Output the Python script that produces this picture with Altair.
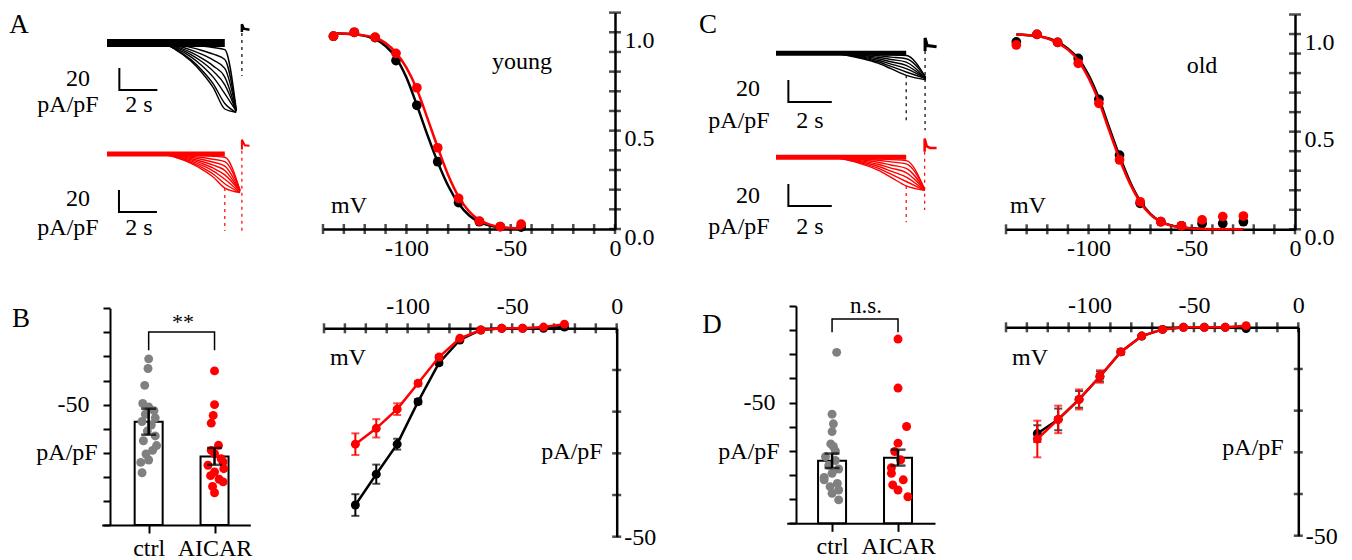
import altair as alt
import pandas as pd

FONT = "Liberation Serif"
W, H = 1352, 560
BLACK, RED, GRAY = "#000000", "#ff0000", "#808080"
NEG_EXPR = "datum.value == 0 ? '0' : '-' + abs(datum.value)"

# ---------------- A / C : normalized activation curves ----------------
ACT_V_YOUNG = [-135, -125, -115, -105, -95, -85, -75, -65, -55, -45]
YOUNG_CTRL = [0.98, 1.00, 0.973, 0.856, 0.629, 0.342, 0.134, 0.037, 0.012, 0.010]
YOUNG_AICAR = [0.98, 1.00, 0.975, 0.893, 0.718, 0.413, 0.156, 0.040, 0.012, 0.025]
FIT_V_YOUNG = [-135, -125, -115, -110, -105, -100, -95, -90, -85, -80, -75, -70, -65, -60, -55, -50, -45]
FIT_YOUNG_CTRL = [0.995, 0.99, 0.965, 0.93, 0.87, 0.77, 0.63, 0.48, 0.34, 0.22, 0.13, 0.07, 0.035, 0.017, 0.008, 0.004, 0.002]
FIT_YOUNG_AICAR = [0.995, 0.99, 0.972, 0.945, 0.895, 0.82, 0.71, 0.565, 0.415, 0.275, 0.165, 0.09, 0.045, 0.022, 0.010, 0.005, 0.003]

ACT_V_OLD = [-135, -125, -115, -105, -95, -85, -75, -65, -55, -45, -35, -25]
OLD_CTRL = [0.96, 0.998, 0.957, 0.875, 0.666, 0.38, 0.133, 0.039, 0.018, 0.03, 0.03, 0.039]
OLD_AICAR = [0.944, 0.998, 0.957, 0.85, 0.645, 0.355, 0.141, 0.039, 0.018, 0.048, 0.065, 0.068]
FIT_V_OLD = [-135, -125, -115, -110, -105, -100, -95, -90, -85, -80, -75, -70, -65, -60, -55, -50, -45, -35, -25]
FIT_OLD_CTRL = [0.998, 0.99, 0.96, 0.925, 0.875, 0.79, 0.67, 0.52, 0.375, 0.245, 0.145, 0.078, 0.04, 0.02, 0.01, 0.005, 0.002, 0.0, 0.0]
FIT_OLD_AICAR = [0.998, 0.99, 0.955, 0.92, 0.865, 0.775, 0.655, 0.505, 0.36, 0.235, 0.14, 0.075, 0.038, 0.019, 0.009, 0.004, 0.002, 0.0, 0.0]

# ---------------- B / D : I-V relations (pA/pF) ----------------
IV_V = [-125, -115, -105, -95, -85, -75, -65, -55, -45, -35, -25]
B_CTRL = [-42.4, -35.0, -27.8, -17.6, -8.3, -2.8, -0.4, 0.0, 0.0, 0.0, 0.3]
B_CTRL_SEM = [2.6, 2.3, 1.3, 0.6, 0.5, 0.3, 0.2, 0.1, 0.1, 0.1, 0.1]
B_AICAR = [-27.8, -24.0, -19.4, -13.2, -6.9, -2.4, -0.4, 0.0, 0.0, 0.3, 1.0]
B_AICAR_SEM = [2.6, 2.2, 1.4, 0.6, 0.5, 0.3, 0.2, 0.1, 0.1, 0.1, 0.1]
D_CTRL = [-25.5, -22.1, -17.3, -11.8, -5.9, -2.1, -0.5, 0.0, 0.0, 0.0, -0.3]
D_CTRL_SEM = [2.0, 2.6, 2.0, 1.2, 0.6, 0.3, 0.2, 0.1, 0.1, 0.1, 0.1]
D_AICAR = [-26.8, -22.1, -17.3, -11.8, -5.9, -2.1, -0.5, 0.0, 0.0, 0.0, 0.4]
D_AICAR_SEM = [4.4, 3.3, 2.4, 1.5, 0.6, 0.3, 0.2, 0.1, 0.1, 0.1, 0.1]

# ---------------- B / D : bar summaries at -125 mV ----------------
GROUPS = ["ctrl", "AICAR"]
B_MEAN = [-42.9, -28.5]
B_SEM = [5.4, 3.5]
D_MEAN = [-25.9, -27.2]
D_SEM = [3.0, 3.3]
B_CTRL_PTS = [-69.0, -65.0, -58.0, -50.5, -49.0, -47.5, -46.0, -44.5, -43.0, -41.5, -39.0, -37.0, -35.0, -33.0, -31.0, -29.5, -27.0, -26.0, -21.7]
B_CTRL_JIT = [0.0, -0.01, -0.06, -0.09, 0.0, 0.08, -0.05, 0.1, -0.1, 0.04, -0.02, 0.1, -0.08, 0.12, 0.06, -0.04, 0.0, -0.12, -0.1]
B_AICAR_PTS = [-64.0, -50.0, -45.5, -42.3, -33.1, -31.0, -29.6, -27.5, -26.2, -24.8, -23.4, -22.0, -20.5, -19.0, -17.9, -16.0, -13.4]
B_AICAR_JIT = [0.0, 0.0, -0.02, -0.05, 0.06, -0.05, 0.0, 0.1, 0.13, -0.1, 0.14, 0.0, -0.06, 0.07, 0.13, -0.03, 0.0]
D_CTRL_PTS = [-70.8, -45.2, -41.2, -38.0, -32.9, -31.8, -30.0, -27.6, -26.0, -24.0, -22.5, -20.7, -19.0, -18.0, -16.5, -15.2, -13.8, -12.4, -9.7]
D_CTRL_JIT = [0.07, 0.0, 0.02, 0.0, -0.02, 0.02, 0.05, -0.1, 0.05, -0.05, 0.1, 0.0, -0.12, -0.12, 0.08, -0.03, 0.1, 0.0, 0.1]
D_AICAR_PTS = [-76.3, -56.0, -40.1, -33.2, -29.7, -26.3, -23.0, -20.7, -18.0, -15.9, -13.8, -11.0]
D_AICAR_JIT = [0.0, 0.0, 0.13, 0.0, -0.05, 0.04, -0.1, -0.1, 0.08, -0.08, 0.0, 0.15]

# ---------------- A / C : current traces (s, pA/pF) ----------------
A_T_BLACK = [0, 2.8, 3.6, 4.4, 5.0, 5.6, 6.2, 6.8]
A_SWEEPS_BLACK = [
    [0, 0, -0.6, -1.6, -2.7, -4.1, -6, -60],
    [0, 0, -1.5, -4.0, -6.8, -10.2, -15, -61],
    [0, 0, -2.3, -6.2, -10.4, -15.6, -23, -61],
    [0, 0, -3.1, -8.4, -14.0, -21.0, -31, -62],
    [0, 0, -3.8, -10.3, -17.1, -25.8, -38, -62],
    [0, 0, -4.6, -12.4, -20.7, -31.3, -46, -62],
    [0, 0, -5.5, -14.9, -24.8, -37.4, -55, -63],
    [0, 0, -6.0, -16.2, -27.0, -40.8, -60, -63],
]
A_T_RED = [0, 2.8, 3.6, 4.4, 5.0, 5.6, 6.2, 7.0]
A_SWEEPS_RED = [
    [0, 0, -0.3, -0.8, -1.4, -2.0, -3, -33],
    [0, 0, -0.7, -1.9, -3.2, -4.8, -7, -33],
    [0, 0, -1.1, -3.0, -5.0, -7.5, -11, -34],
    [0, 0, -1.5, -4.1, -6.8, -10.2, -15, -34],
    [0, 0, -1.9, -5.1, -8.6, -12.9, -19, -34],
    [0, 0, -2.3, -6.2, -10.4, -15.6, -23, -35],
    [0, 0, -2.7, -7.3, -12.2, -18.4, -27, -35],
    [0, 0, -3.1, -8.4, -14.0, -21.1, -31, -35],
]
C_T_BLACK = [0, 2.5, 3.3, 4.0, 4.7, 5.3, 6.0, 6.9]
C_SWEEPS_BLACK = [
    [0, 0, -0.2, -0.5, -0.9, -1.4, -2, -22],
    [0, 0, -0.5, -1.25, -2.25, -3.5, -5, -22],
    [0, 0, -0.8, -2.0, -3.6, -5.6, -8, -23],
    [0, 0, -1.1, -2.75, -5.0, -7.7, -11, -23],
    [0, 0, -1.4, -3.5, -6.3, -9.8, -14, -23],
    [0, 0, -1.7, -4.25, -7.7, -11.9, -17, -23],
    [0, 0, -2.0, -5.0, -9.0, -14.0, -20, -24],
]
C_T_RED = [0, 2.5, 3.3, 4.0, 4.7, 5.3, 6.0, 6.85]
C_SWEEPS_RED = [
    [0, 0, -0.3, -0.75, -1.35, -2.1, -3, -29],
    [0, 0, -0.6, -1.5, -2.7, -4.2, -6, -29],
    [0, 0, -1.0, -2.5, -4.5, -7.0, -10, -29.5],
    [0, 0, -1.4, -3.5, -6.3, -9.8, -14, -29.5],
    [0, 0, -1.8, -4.5, -8.1, -12.6, -18, -30],
    [0, 0, -2.2, -5.5, -9.9, -15.4, -22, -30],
    [0, 0, -2.6, -6.5, -11.7, -18.2, -26, -30],
]
A_TAIL_BLACK = ([7.1, 7.1, 7.2, 7.5], [10, 17, 13, 12])
A_TAIL_RED = ([7.1, 7.1, 7.25, 7.5], [4, 13, 8, 7.5])
C_TAIL_BLACK = ([6.87, 6.87, 6.97, 7.4], [2, 14, 7, 6])
C_TAIL_RED = ([6.85, 6.85, 6.95, 7.1, 7.4], [5, 17, 10, 8.5, 8.5])

X_TICKS = [-140, -130, -120, -110, -100, -90, -80, -70, -60, -50, -40, -30, -20, -10, 0]
ACT_Y_TICKS = [0, 0.1, 0.2, 0.3, 0.4, 0.5, 0.6, 0.7, 0.8, 0.9, 1.0, 1.1]
IV_Y_TICKS = [-10, -20, -30, -40, -50]
BAR_Y_TICKS = [0, -10, -20, -30, -40, -50, -60, -70, -80, -90]

ANN_TEXT = ["A", "B", "C", "D",
            "20", "pA/pF", "2 s", "20", "pA/pF", "2 s",
            "20", "pA/pF", "2 s", "20", "pA/pF", "2 s",
            "mV", "young", "mV", "old", "mV", "pA/pF", "mV", "pA/pF",
            "pA/pF", "pA/pF", "**", "n.s."]
ANN_X = [19, 21, 708, 712,
         78, 68, 139, 78, 68, 139,
         748, 739, 810, 748, 739, 810,
         349, 522, 1028, 1202, 348, 572, 1030, 1253,
         67, 749, 183, 866]
ANN_Y = [25, 319, 25, 325,
         79, 105, 105, 199, 228, 228,
         89, 121, 121, 196, 227, 227,
         206, 62, 206, 66, 358, 452, 358, 448,
         453, 452, 322, 306]
ANN_SIZE = [27, 27, 27, 27] + [24] * 22 + [22, 23]


def q(ch, field, scale, axis):
    return ch(field, type="quantitative", scale=scale, axis=axis, title=None)


def curve_panel(xr, yr, xoff, yoff, fv, fc, fa, v, c, a):
    xs = alt.Scale(domain=[-140, 0], range=xr, nice=False, zero=False)
    ys = alt.Scale(domain=[0, 1.1], range=yr, nice=False, zero=False)
    xa = alt.Axis(orient="bottom", offset=xoff, values=[-100, -50, 0], labelExpr=NEG_EXPR,
                  ticks=False, tickSize=0, grid=False, domainWidth=2.5, labelPadding=7,
                  labelFlush=False, labelOverlap=False)
    ya = alt.Axis(orient="right", offset=yoff, values=[0, 0.5, 1.0], format=".1f",
                  ticks=False, tickSize=0, grid=False, domainWidth=2.5, labelPadding=9,
                  labelOffset=8, labelFlush=False, labelOverlap=False)

    def enc(ch):
        return ch.encode(x=q(alt.X, "x", xs, xa), y=q(alt.Y, "y", ys, ya))

    xt = enc(alt.Chart(pd.DataFrame({"x": X_TICKS, "y": [0] * len(X_TICKS)}))
             .mark_tick(orient="vertical", size=10, thickness=2.5, color=BLACK))
    yt = enc(alt.Chart(pd.DataFrame({"x": [0] * len(ACT_Y_TICKS), "y": ACT_Y_TICKS}))
             .mark_tick(orient="horizontal", size=12, thickness=2.5, color=BLACK))
    lc = enc(alt.Chart(pd.DataFrame({"x": fv, "y": fc}))
             .mark_line(color=BLACK, strokeWidth=2.5, interpolate="monotone"))
    pc = enc(alt.Chart(pd.DataFrame({"x": v, "y": c}))
             .mark_circle(color=BLACK, size=95, opacity=1))
    la = enc(alt.Chart(pd.DataFrame({"x": fv, "y": fa}))
             .mark_line(color=RED, strokeWidth=2.5, interpolate="monotone"))
    pa = enc(alt.Chart(pd.DataFrame({"x": v, "y": a}))
             .mark_circle(color=RED, size=95, opacity=1))
    return alt.layer(xt, yt, lc, pc, la, pa)


def iv_panel(xr, yr, xoff, yoff, c, cs, a, as_):
    xs = alt.Scale(domain=[-140, 0], range=xr, nice=False, zero=False)
    ys = alt.Scale(domain=[-50, 0], range=yr, nice=False, zero=False)
    xa = alt.Axis(orient="top", offset=xoff, values=[-100, -50, 0], labelExpr=NEG_EXPR,
                  ticks=False, tickSize=0, grid=False, domainWidth=2.5, labelPadding=10,
                  labelFlush=False, labelOverlap=False)
    ya = alt.Axis(orient="right", offset=yoff, values=[-50], labelExpr=NEG_EXPR,
                  ticks=False, tickSize=0, grid=False, domainWidth=2.5, labelPadding=7,
                  labelOffset=1, labelFlush=False, labelOverlap=False)

    def enc(ch, yf="y"):
        return ch.encode(x=q(alt.X, "x", xs, xa), y=q(alt.Y, yf, ys, ya))

    layers = [
        enc(alt.Chart(pd.DataFrame({"x": X_TICKS, "y": [0] * len(X_TICKS)}))
            .mark_tick(orient="vertical", size=10, thickness=2.5, color=BLACK)),
        enc(alt.Chart(pd.DataFrame({"x": [0] * len(IV_Y_TICKS), "y": IV_Y_TICKS}))
            .mark_tick(orient="horizontal", size=9, thickness=2.5, color=BLACK)),
    ]
    for m, s, col in ((c, cs, BLACK), (a, as_, RED)):
        df = pd.DataFrame({"x": IV_V, "y": m,
                           "lo": [mm - ss for mm, ss in zip(m, s)],
                           "hi": [mm + ss for mm, ss in zip(m, s)]})
        base = alt.Chart(df)
        layers.append(enc(base.mark_line(color=col, strokeWidth=2.5)))
        layers.append(enc(base.mark_rule(color=col, strokeWidth=2), "lo").encode(y2="hi"))
        layers.append(enc(base.mark_tick(orient="horizontal", size=8, thickness=2, color=col), "lo"))
        layers.append(enc(base.mark_tick(orient="horizontal", size=8, thickness=2, color=col), "hi"))
        layers.append(enc(base.mark_circle(color=col, size=80, opacity=1)))
    return alt.layer(*layers)


def bar_panel(xr, xdom, yr, xoff, yoff, means, sems, cpts, cjit, apts, ajit, br_top, br_leg):
    xs = alt.Scale(domain=xdom, range=xr, nice=False, zero=False)
    ys = alt.Scale(domain=[-90, 0], range=yr, nice=False, zero=False)
    xa = alt.Axis(orient="bottom", offset=xoff, values=[1, 2],
                  labelExpr="datum.value == 1 ? 'ctrl' : 'AICAR'", ticks=True, tickSize=8,
                  tickWidth=2, grid=False, domainWidth=2, labelPadding=3,
                  labelFlush=False, labelOverlap=False)
    ya = alt.Axis(orient="left", offset=yoff, values=BAR_Y_TICKS,
                  labelExpr="datum.value == -50 ? '-50' : ''", ticks=True, tickSize=7,
                  tickWidth=2, grid=False, domainWidth=2, labelPadding=14,
                  labelFlush=False, labelOverlap=False)

    def enc(ch, yf="y"):
        return ch.encode(x=q(alt.X, "x", xs, xa), y=q(alt.Y, yf, ys, ya))

    bars = pd.DataFrame({"x": [1, 2], "g": GROUPS, "y": means, "zero": [0, 0],
                         "lo": [m - s for m, s in zip(means, sems)],
                         "hi": [m + s for m, s in zip(means, sems)]})
    pts_c = pd.DataFrame({"x": [1 + j for j in cjit], "y": cpts})
    pts_a = pd.DataFrame({"x": [2 + j for j in ajit], "y": apts})
    brk = pd.DataFrame({"x": [1, 1, 2, 2], "y": [br_leg, br_top, br_top, br_leg], "o": [0, 1, 2, 3]})
    b = alt.Chart(bars)
    return alt.layer(
        enc(b.mark_bar(size=28, fill="white", stroke=BLACK, strokeWidth=2)).encode(y2="zero"),
        enc(alt.Chart(pts_c).mark_circle(color=GRAY, size=80, opacity=1)),
        enc(alt.Chart(pts_a).mark_circle(color=RED, size=80, opacity=1)),
        enc(b.mark_rule(color=BLACK, strokeWidth=2.5), "lo").encode(y2="hi"),
        enc(b.mark_tick(orient="horizontal", size=15, thickness=2.5, color=BLACK), "lo"),
        enc(b.mark_tick(orient="horizontal", size=15, thickness=2.5, color=BLACK), "hi"),
        enc(alt.Chart(brk).mark_line(color=BLACK, strokeWidth=1.5)).encode(order="o:Q"),
    )


def trace_panel(xr, yr, T, sweeps, col, base_end, base_w, tail, dashes, sbar, tail_w):
    xs = alt.Scale(domain=[0, 8], range=xr, nice=False, zero=False)
    ys = alt.Scale(domain=[-70, 30], range=yr, nice=False, zero=False)

    def enc(ch, yf="y"):
        return ch.encode(x=q(alt.X, "x", xs, None), y=q(alt.Y, yf, ys, None))

    rows = {"x": [], "y": [], "k": []}
    for k, sw in enumerate(sweeps):
        for t, i in zip(T, sw):
            rows["x"].append(t)
            rows["y"].append(i)
            rows["k"].append(k)
    sw_df = pd.DataFrame(rows)
    base_df = pd.DataFrame({"x": [0, base_end], "y": [0, 0]})
    tail_df = pd.DataFrame({"x": tail[0], "y": tail[1], "o": list(range(len(tail[0])))})
    dash_df = pd.DataFrame({"x": [d[0] for d in dashes], "y": [d[1] for d in dashes],
                            "y2": [d[2] for d in dashes]})
    t0, i0 = sbar
    sb_df = pd.DataFrame({"x": [t0, t0, t0 + 2], "y": [i0 + 20, i0, i0], "o": [0, 1, 2]})
    return alt.layer(
        enc(alt.Chart(base_df).mark_line(color=col, strokeWidth=base_w, strokeCap="butt")),
        enc(alt.Chart(sw_df).mark_line(color=col, strokeWidth=1.4, interpolate="monotone")).encode(detail="k:N"),
        enc(alt.Chart(dash_df).mark_rule(color=col, strokeWidth=1.2, strokeDash=[3, 4])).encode(y2="y2"),
        enc(alt.Chart(tail_df).mark_line(color=col, strokeWidth=tail_w)).encode(order="o:Q"),
        enc(alt.Chart(sb_df).mark_line(color=BLACK, strokeWidth=2)).encode(order="o:Q"),
    )


panels = [
    trace_panel([107, 259], [120, 10], A_T_BLACK, A_SWEEPS_BLACK, BLACK, 6.2, 8,
                A_TAIL_BLACK, [(7.1, 9, -30)], (0.65, -42.7), 2.5),
    trace_panel([107, 259], [231, 121], A_T_RED, A_SWEEPS_RED, RED, 6.2, 5,
                A_TAIL_RED, [(6.2, -31, -70), (7.1, 3, -70)], (0.63, -52.7), 2),
    trace_panel([776, 949.6], [130.3, 20.3], C_T_BLACK, C_SWEEPS_BLACK, BLACK, 6.0, 5,
                C_TAIL_BLACK, [(6.0, -20, -62), (6.87, 2, -70)], (0.57, -44.3), 3),
    trace_panel([776, 949.6], [234.3, 124.3], C_T_RED, C_SWEEPS_RED, RED, 6.0, 5,
                C_TAIL_RED, [(6.0, -26, -59), (6.85, 5, -48)], (0.57, -44.3), 2.5),
    curve_panel([323, 615], [229, 12.6], 229 - H, 615 - W,
                FIT_V_YOUNG, FIT_YOUNG_CTRL, FIT_YOUNG_AICAR, ACT_V_YOUNG, YOUNG_CTRL, YOUNG_AICAR),
    curve_panel([1006, 1295], [229.3, 14.5], 229.3 - H, 1295 - W,
                FIT_V_OLD, FIT_OLD_CTRL, FIT_OLD_AICAR, ACT_V_OLD, OLD_CTRL, OLD_AICAR),
    iv_panel([324, 616.7], [536.7, 328.3], -328.3, 616.7 - W, B_CTRL, B_CTRL_SEM, B_AICAR, B_AICAR_SEM),
    iv_panel([1006, 1298.3], [535.7, 327.3], -327.3, 1298.3 - W, D_CTRL, D_CTRL_SEM, D_AICAR, D_AICAR_SEM),
    bar_panel([101.7, 250.3], [0.363, 2.467], [308.3, 525], 525 - H, -110,
              B_MEAN, B_SEM, B_CTRL_PTS, B_CTRL_JIT, B_AICAR_PTS, B_AICAR_JIT, -80.2, -72.6),
    bar_panel([786.7, 935], [0.388, 2.485], [306, 523.3], 523.3 - H, -796,
              D_MEAN, D_SEM, D_CTRL_PTS, D_CTRL_JIT, D_AICAR_PTS, D_AICAR_JIT, -84.6, -79.1),
]

ann = pd.DataFrame({"label": ANN_TEXT, "px": ANN_X, "py": ANN_Y, "fs": ANN_SIZE})
text = alt.Chart(ann).mark_text(font=FONT, color=BLACK, align="center", baseline="middle").encode(
    x=alt.X("px:Q", scale=None, axis=None),
    y=alt.Y("py:Q", scale=None, axis=None),
    text="label:N",
    size=alt.Size("fs:Q", scale=None, legend=None),
)

chart = (
    alt.layer(*panels, text)
    .resolve_scale(x="independent", y="independent")
    .properties(width=W, height=H, autosize=alt.AutoSizeParams(type="none"), padding=0,
                background="white")
    .configure_view(stroke=None)
    .configure_axis(labelFont=FONT, labelFontSize=24, labelColor=BLACK,
                    domainColor=BLACK, tickColor=BLACK)
)

chart.save("out.html", embed_options={"renderer": "svg", "actions": False})
